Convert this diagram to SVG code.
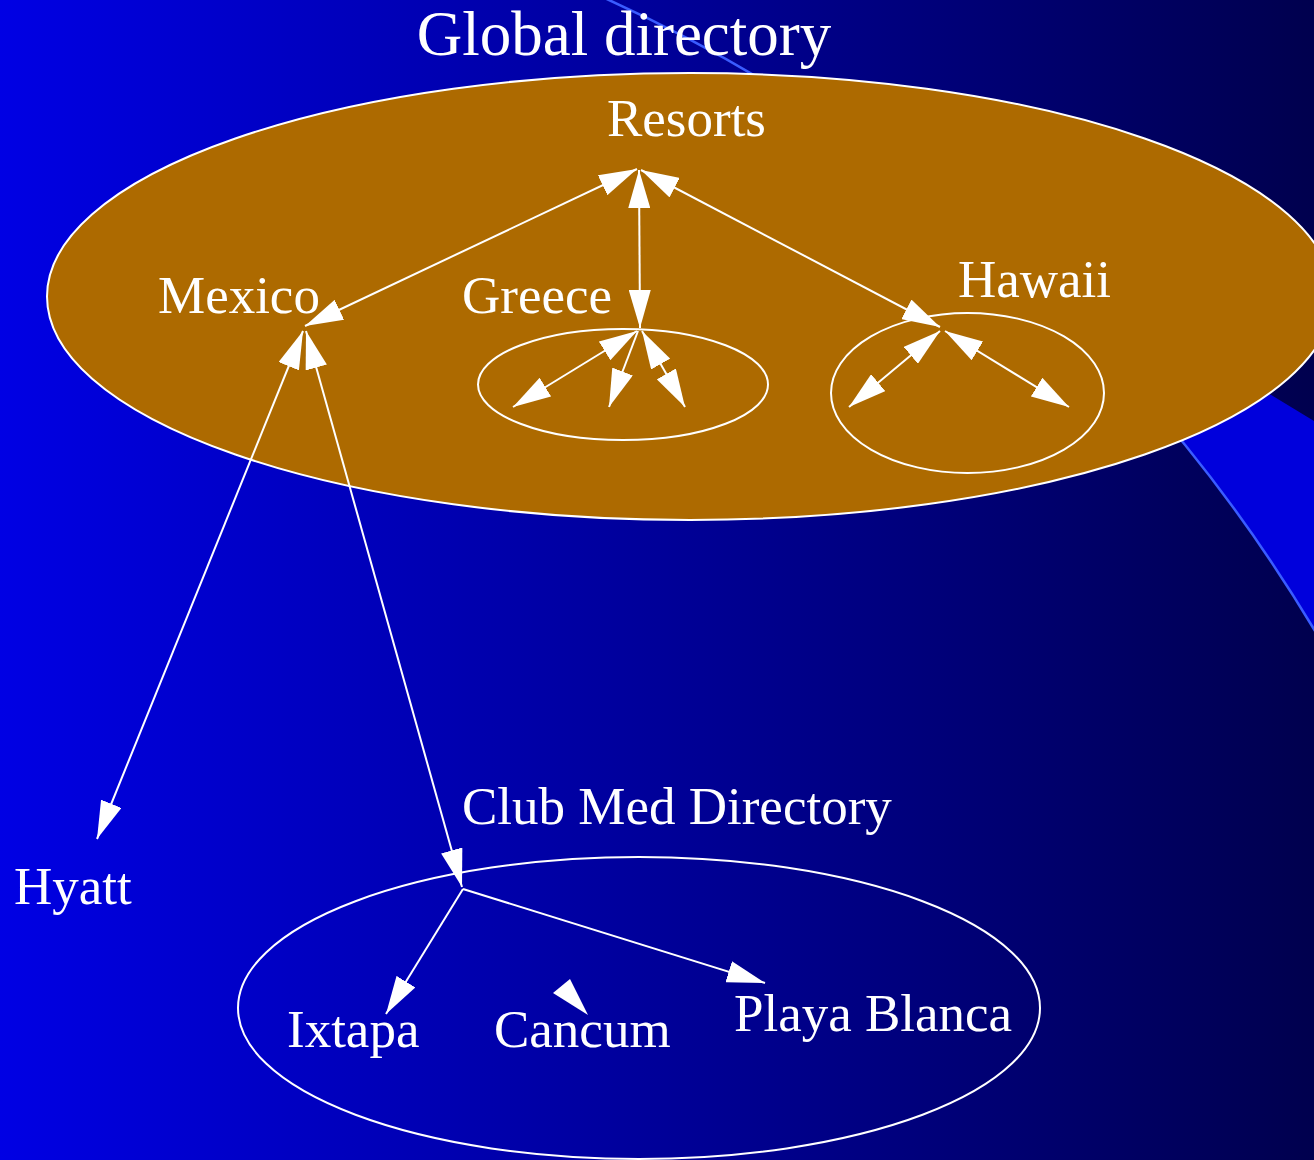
<svg xmlns="http://www.w3.org/2000/svg" width="1314" height="1160" viewBox="0 0 1314 1160">
  <defs>
    <linearGradient id="bg" x1="0" y1="0" x2="1" y2="0">
      <stop offset="0" stop-color="#0000e4"/>
      <stop offset="1" stop-color="#00004e"/>
    </linearGradient>
    <marker id="ah" viewBox="-38 -11 38 22" refX="0" refY="0" markerWidth="38" markerHeight="22" markerUnits="userSpaceOnUse" orient="auto-start-reverse">
      <path d="M0,0 L-38,-11 L-38,11 Z" fill="#fff"/>
    </marker>
    <style>
      .lbl { font-family: "Liberation Serif", "Times New Roman", serif; font-size: 53px; fill: #fff; }
      .title { font-family: "Liberation Serif", "Times New Roman", serif; font-size: 63px; fill: #fff; }
      .ring { fill: none; stroke: #fff; stroke-width: 2; }
      .edge { fill: none; stroke: #fff; stroke-width: 2; }
      .both { marker-start: url(#ah); marker-end: url(#ah); }
      .one { marker-end: url(#ah); }
    </style>
  </defs>

  <!-- backdrop -->
  <rect x="0" y="0" width="1314" height="1160" fill="url(#bg)"/>
  <path d="M1314,421 L899,168 A1587,1587 0 0 1 1314,630 Z" fill="#0000dc"/>
  <path d="M600,-4 A1587,1587 0 0 1 1318,636" fill="none" stroke="#3a5cff" stroke-width="2.5"/>

  <!-- Global directory cluster -->
  <g id="global-directory">
    <ellipse cx="690" cy="296.5" rx="643" ry="223.5" fill="#ad6a00" stroke="#fff" stroke-width="2"/>
    <text class="title" x="624" y="55" text-anchor="middle">Global directory</text>
  </g>

  <g id="greece">
    <ellipse class="ring" cx="623" cy="384.5" rx="145" ry="55.5"/>
    <text class="lbl" x="462" y="313">Greece</text>
  </g>

  <g id="hawaii">
    <ellipse class="ring" cx="967.5" cy="393" rx="136.5" ry="80"/>
    <text class="lbl" x="958" y="297">Hawaii</text>
  </g>

  <g id="resorts">
    <text class="lbl" x="607" y="136">Resorts</text>
  </g>

  <g id="mexico">
    <text class="lbl" x="158" y="313">Mexico</text>
  </g>

  <g id="hyatt">
    <text class="lbl" x="14" y="904">Hyatt</text>
  </g>

  <g id="club-med-directory">
    <ellipse class="ring" cx="639" cy="1008" rx="401" ry="151"/>
    <text class="lbl" x="462" y="824">Club Med Directory</text>
  </g>

  <g id="ixtapa">
    <text class="lbl" x="287" y="1047">Ixtapa</text>
  </g>

  <g id="cancum">
    <text class="lbl" x="494" y="1047">Cancum</text>
  </g>

  <g id="playa-blanca">
    <text class="lbl" x="734" y="1031">Playa Blanca</text>
  </g>

  <!-- connectors -->
  <g id="connectors">
    <path class="edge both" d="M637,169 L305,326"/>
    <path class="edge both" d="M639,170 L640,328"/>
    <path class="edge both" d="M641,170 L940,327"/>

    <path class="edge both" d="M637,331 L513,407"/>
    <path class="edge one" d="M638,331 L609,407"/>
    <path class="edge both" d="M642,331 L685,407"/>

    <path class="edge both" d="M940,331 L849,407"/>
    <path class="edge both" d="M945,331 L1069,407"/>

    <path class="edge both" d="M303,331 L97,839"/>
    <path class="edge both" d="M306,331 L462,887"/>

    <path class="edge one" d="M463,889 L386,1014"/>
    <path class="edge one" d="M463,889 L765,983"/>
    <polygon points="553,993 570,979 588,1015" fill="#fff"/>
  </g>
</svg>
